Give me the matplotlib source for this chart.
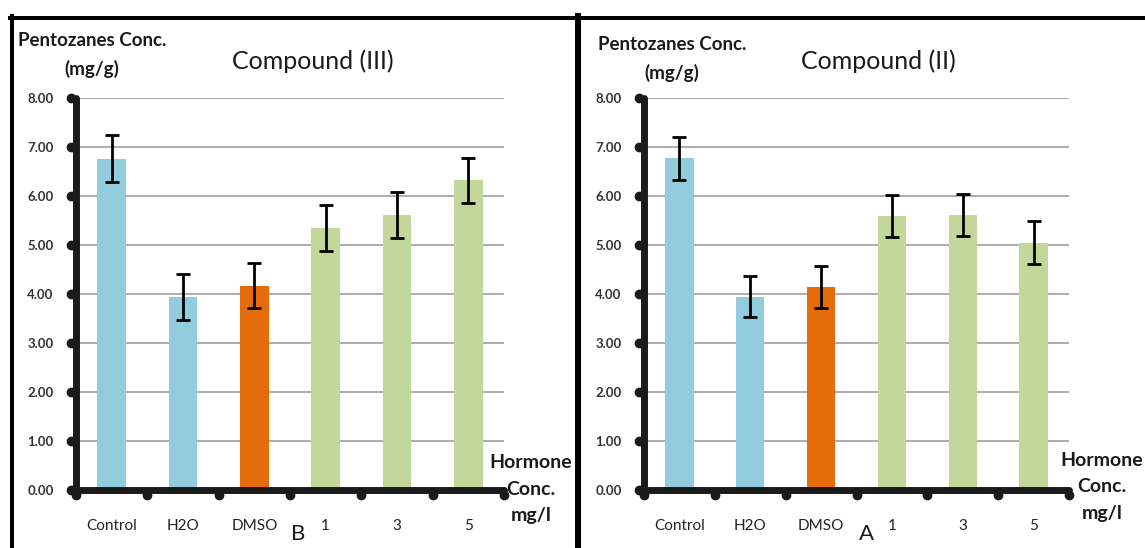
import matplotlib
matplotlib.use("Agg")
import matplotlib.pyplot as plt
from matplotlib.transforms import ScaledTranslation
from matplotlib.lines import Line2D

plt.rcParams['font.family'] = ['Lato', 'DejaVu Sans']

categories = ["Control", "H2O", "DMSO", "1", "3", "5"]
values_III = [6.77, 3.95, 4.17, 5.36, 5.62, 6.33]
errors_III = [0.48, 0.47, 0.46, 0.47, 0.47, 0.46]
values_II = [6.78, 3.95, 4.14, 5.60, 5.62, 5.05]
errors_II = [0.44, 0.42, 0.43, 0.43, 0.43, 0.44]
bar_colors = ["#92CDDD", "#92CDDD", "#E46C0A", "#C4D79B", "#C4D79B", "#C4D79B"]
yticks = [0, 1, 2, 3, 4, 5, 6, 7, 8]

W, H = 1145, 548
fig = plt.figure(figsize=(W / 100, H / 100), dpi=100)


def fx(px):
    return px / W


def fy(py):
    return 1 - py / H


def panel(left_px, right_px, values, errors, title, title_x, ylab_pos, hormone_x, hormone_y, letter, letter_x):
    ax = fig.add_axes([fx(left_px), fy(490), fx(right_px - left_px), (490 - 98.4) / H])
    x = list(range(len(categories)))
    ax.bar(x, values, width=0.4, color=bar_colors, zorder=2)
    ax.errorbar(x, values, yerr=errors, fmt='none', ecolor='black', elinewidth=2,
                capsize=5, capthick=2, zorder=3)
    ax.set_xlim(-0.5, len(categories) - 0.5)
    ax.set_ylim(0, 8)
    ax.set_yticks(yticks)
    ax.set_yticklabels([f"{v:.2f}" for v in yticks], fontsize=9.5, color='#333333', fontweight='bold')
    ax.set_xticks(x)
    ax.set_xticklabels(categories, fontsize=11, color='#222222')
    ax.tick_params(axis='both', length=0)
    ax.tick_params(axis='y', pad=16)
    ax.tick_params(axis='x', pad=21)
    ax.yaxis.grid(True, color='#A6A6A6', linewidth=1.3)
    ax.set_axisbelow(True)
    for s in ['top', 'right']:
        ax.spines[s].set_visible(False)
    for s in ['left', 'bottom']:
        ax.spines[s].set_linewidth(5)
        ax.spines[s].set_color('#1a1a1a')
        ax.spines[s].set_capstyle('round')
    # dot-like ticks
    off_y = ScaledTranslation(-0.05, 0, fig.dpi_scale_trans)
    ax.plot([0] * len(yticks), yticks, 'o', color='#1a1a1a', markersize=6,
            transform=ax.get_yaxis_transform() + off_y, clip_on=False, zorder=5)
    off_x = ScaledTranslation(0, -0.05, fig.dpi_scale_trans)
    bounds = [i - 0.5 for i in range(len(categories) + 1)]
    ax.plot(bounds, [0] * len(bounds), 'o', color='#1a1a1a', markersize=6,
            transform=ax.get_xaxis_transform() + off_x, clip_on=False, zorder=5)
    # texts
    fig.text(fx(title_x), fy(61), title, fontsize=18, ha='center', va='center', color='#1a1a1a')
    fig.text(fx(ylab_pos[0]), fy(ylab_pos[1]), "Pentozanes Conc.", fontsize=13.5,
             fontweight='bold', ha='center', va='center', color='#1a1a1a')
    fig.text(fx(ylab_pos[0]), fy(ylab_pos[1] + 28), "(mg/g)", fontsize=13.5,
             fontweight='bold', ha='center', va='center', color='#1a1a1a')
    for i, line in enumerate(["Hormone", "Conc.", "mg/l"]):
        fig.text(fx(hormone_x), fy(hormone_y + 26.5 * i), line, fontsize=14,
                 fontweight='bold', ha='center', va='center', color='#1a1a1a')
    fig.text(fx(letter_x), fy(534), letter, fontsize=16, ha='center', va='center', color='#1a1a1a')
    return ax


panel(76, 504, values_III, errors_III, "Compound (III)", 313, (92, 41), 531, 463, "B", 298)
panel(644, 1069, values_II, errors_II, "Compound (II)", 878, (672, 45), 1102, 460, "A", 866)

# frame lines
fig.add_artist(Line2D([fx(10), fx(W)], [fy(17.5), fy(17.5)], color='black', linewidth=4 * 0.72))
fig.add_artist(Line2D([fx(12), fx(12)], [fy(16), fy(H)], color='black', linewidth=4 * 0.72))
fig.add_artist(Line2D([fx(578), fx(578)], [fy(16), fy(H)], color='black', linewidth=6 * 0.72))

fig.savefig("out.png", dpi=100)
